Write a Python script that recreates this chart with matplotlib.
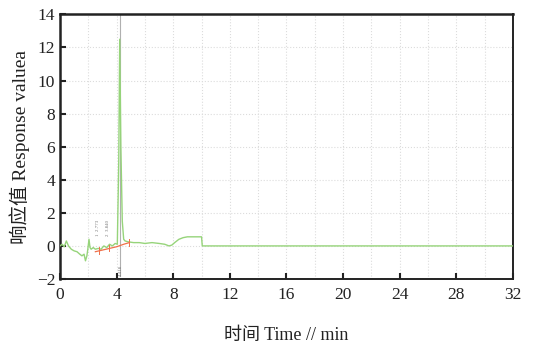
import matplotlib
matplotlib.use('Agg')
import matplotlib.pyplot as plt
from matplotlib.ticker import MultipleLocator

plt.rcParams['font.family'] = ['Liberation Serif', 'Noto Sans CJK SC']

# chromatogram trace (green)
time_min = [0.0, 0.15, 0.3, 0.45, 0.6, 0.8, 1.0, 1.2, 1.4, 1.55, 1.7, 1.8, 1.9, 1.95,
            2.05, 2.12, 2.2, 2.35, 2.5, 2.7, 2.9, 3.1, 3.3, 3.5, 3.7, 3.9, 4.05, 4.15,
            4.22, 4.3, 4.4, 4.5, 4.6, 4.8, 5.2, 5.6, 6.0, 6.5, 7.0, 7.4, 7.7, 7.9, 8.1,
            8.4, 8.7, 9.0, 9.5, 10.0, 10.05, 12.0, 32.0]
response = [0.0, 0.1, -0.05, 0.3, 0.0, -0.2, -0.3, -0.35, -0.5, -0.6, -0.5, -0.9, -0.6, -0.3,
            0.4, -0.1, -0.2, -0.1, -0.2, -0.15, -0.2, 0.0, -0.1, 0.1, 0.0, 0.15, 0.1, 5.0,
            12.5, 6.0, 1.5, 0.4, 0.3, 0.25, 0.2, 0.2, 0.15, 0.2, 0.15, 0.1, 0.0, 0.05, 0.2,
            0.4, 0.5, 0.55, 0.55, 0.55, 0.0, 0.0, 0.0]

# integration baseline (red)
base_t = [2.5, 3.0, 3.5, 4.0, 4.5, 4.9]
base_y = [-0.35, -0.25, -0.15, -0.05, 0.1, 0.2]
mark_t = [2.75, 3.45, 4.9]

# peak annotations
peak_t = [2.68, 3.38]
peak_txt = ['1  2.773', '2  3.840']
main_peak = 4.22
main_txt = '4.418'

fig = plt.figure(figsize=(5.38, 3.43), dpi=100)
ax = fig.add_axes([0.1115, 0.1866, 0.842, 0.7714])

ax.plot(time_min, response, color='#96d47a', lw=1.0, zorder=3)
ax.plot(base_t, base_y, color='#f0704a', lw=0.9, zorder=4)
for t in mark_t:
    yb = base_y[0] + (t - base_t[0]) * (base_y[-1] - base_y[0]) / (base_t[-1] - base_t[0])
    ax.plot([t, t], [yb - 0.2, yb + 0.2], color='#f0704a', lw=0.7, zorder=4)

ax.axvline(main_peak, ymin=0.01, ymax=1, color='#b0b0b0', lw=0.8, zorder=2)
for t, s in zip(peak_t, peak_txt):
    ax.text(t, 0.6, s, rotation=90, fontsize=3.5, color='#777777', ha='center', va='bottom')
ax.text(main_peak + 0.12, -1.8, main_txt, rotation=90, fontsize=3.5, color='#777777',
        ha='center', va='bottom')

ax.set_xlim(0, 32)
ax.set_ylim(-2, 14)
ax.xaxis.set_major_locator(MultipleLocator(4))
ax.xaxis.set_minor_locator(MultipleLocator(2))
ax.yaxis.set_major_locator(MultipleLocator(2))
ax.grid(which='both', color='#dcdcdc', ls=':', lw=0.8, zorder=0)
ax.tick_params(which='major', direction='in', length=4, width=1.5, labelsize=12.5,
               colors='#222222')
ax.tick_params(axis='x', pad=6)
ax.tick_params(which='minor', length=0)
ax.set_yticklabels(['\u22122' if v < 0 else str(int(v)) for v in ax.get_yticks()])

for side in ['left', 'top']:
    ax.spines[side].set_linewidth(1.8)
for side in ['right', 'bottom']:
    ax.spines[side].set_linewidth(1.4)
for sp in ax.spines.values():
    sp.set_color('#222222')

ax.set_xlabel('时间 Time // min', fontsize=13, labelpad=17, color='#222222')
ax.set_ylabel('响应值 Response valuea', fontsize=14, labelpad=5, color='#222222')

fig.savefig('out.png', dpi=100)
